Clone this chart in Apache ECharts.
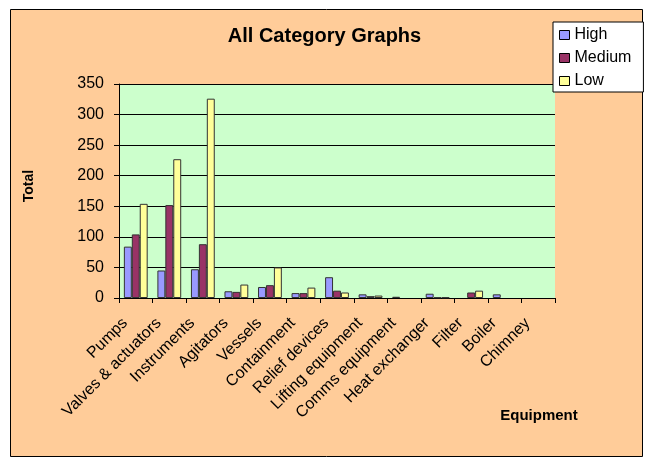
<!DOCTYPE html>
<html>
<head>
<meta charset="utf-8">
<script src="https://cdn.jsdelivr.net/npm/echarts@6/dist/echarts.min.js"></script>
<style>
  html, body { margin: 0; padding: 0; background: #ffffff; }
  #chart { width: 649px; height: 458px; }
</style>
</head>
<body>
<div id="chart"></div>
<script>
// Equipment categories on the x axis
const categories = [
  'Pumps', 'Valves & actuators', 'Instruments', 'Agitators', 'Vessels',
  'Containment', 'Relief devices', 'Lifting equipment', 'Comms equipment',
  'Heat exchanger', 'Filter', 'Boiler', 'Chimney'
];

// Totals per risk level
const highValues   = [84, 45, 47, 11, 18, 8, 34, 6, 2, 7, 0, 6, 0];
const mediumValues = [104, 152, 88, 10, 21, 8, 12, 3, 0, 1, 9, 0, 0];
const lowValues    = [154, 227, 326, 22, 50, 17, 9, 4, 0, 1, 12, 0, 0];

const seriesNames = ['High', 'Medium', 'Low'];
const seriesColors = ['#9999FF', '#993366', '#FFFF99'];

const yTicks = { min: 0, max: 350, interval: 50 };

const chart = echarts.init(document.getElementById('chart'), null, { renderer: 'canvas' });

const font = 'Liberation Sans, Arial, sans-serif';

// empty cells are left out rather than drawn as flat outlines
const withGaps = (arr) => arr.map(v => (v === 0 ? null : v));

const barSeries = (i, values) => ({
  name: seriesNames[i],
  type: 'bar',
  data: withGaps(values),
  barGap: '0%',
  barCategoryGap: '29%',
  itemStyle: { color: seriesColors[i], borderColor: '#333333', borderWidth: 1 }
});

chart.setOption({
  animation: false,
  backgroundColor: '#ffffff',
  textStyle: { fontFamily: font, color: '#000' },
  graphic: [
    {
      type: 'rect',
      z: -10,
      shape: { x: 10.5, y: 9.5, width: 632, height: 447 },
      style: { fill: '#FFCC99', stroke: '#000000', lineWidth: 1 }
    },
    {
      type: 'text',
      x: 539,
      y: 416,
      style: {
        text: 'Equipment',
        font: 'bold 15px ' + font,
        fill: '#000',
        align: 'center',
        verticalAlign: 'middle'
      }
    }
  ],
  title: {
    text: 'All Category Graphs',
    left: 'center',
    top: 21,
    textStyle: { fontFamily: font, fontSize: 20, fontWeight: 'bold', color: '#000' }
  },
  legend: {
    data: seriesNames,
    orient: 'vertical',
    left: 553,
    top: 22,
    padding: [5, 12, 3, 6],
    itemGap: 7,
    itemWidth: 10,
    itemHeight: 9,
    icon: 'rect',
    backgroundColor: '#ffffff',
    borderColor: '#000000',
    borderWidth: 1,
    itemStyle: { borderColor: '#000', borderWidth: 1 },
    textStyle: { fontFamily: font, fontSize: 16, color: '#000', padding: [0, 0, 0, 0] }
  },
  grid: {
    left: 119,
    top: 84,
    width: 436,
    height: 214,
    show: true,
    backgroundColor: '#CCFFCC',
    borderWidth: 0
  },
  xAxis: {
    type: 'category',
    data: categories,
    boundaryGap: true,
    axisLine: { lineStyle: { color: '#000', width: 1 } },
    axisTick: { show: true, alignWithLabel: false, length: 5, lineStyle: { color: '#000' } },
    axisLabel: {
      rotate: 45,
      interval: 0,
      margin: 12,
      padding: [0, 15, 0, 0],
      fontFamily: font,
      fontSize: 16,
      color: '#000'
    }
  },
  yAxis: {
    type: 'value',
    min: yTicks.min,
    max: yTicks.max,
    interval: yTicks.interval,
    name: 'Total',
    nameLocation: 'middle',
    nameGap: 83,
    nameTextStyle: { fontFamily: font, fontSize: 14, fontWeight: 'bold', color: '#000', padding: [0, 0, 0, 10] },
    axisLine: { show: true, lineStyle: { color: '#000', width: 1 } },
    axisTick: { show: true, length: 5, lineStyle: { color: '#000' } },
    axisLabel: { fontFamily: font, fontSize: 16, color: '#000', margin: 15 },
    splitLine: { show: true, lineStyle: { color: '#000', width: 1 } }
  },
  series: [
    barSeries(0, highValues),
    barSeries(1, mediumValues),
    barSeries(2, lowValues)
  ]
});
</script>
</body>
</html>
